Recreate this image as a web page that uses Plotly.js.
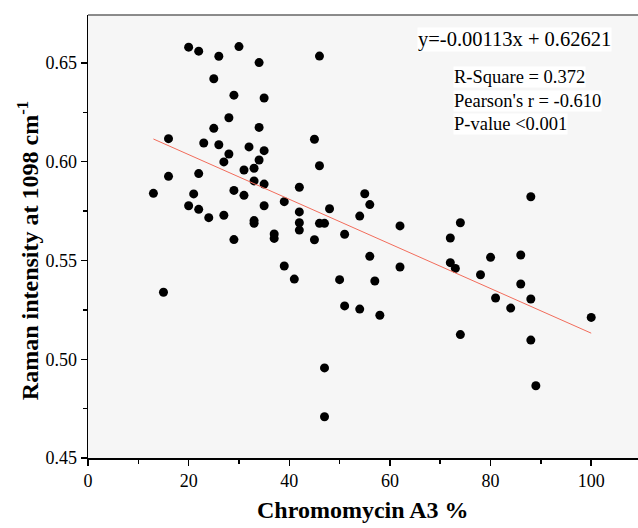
<!DOCTYPE html>
<html>
<head>
<meta charset="utf-8">
<script src="https://cdn.plot.ly/plotly-3.0.1.min.js"></script>
<style>html,body{margin:0;padding:0;background:#fff;overflow:hidden}</style>
</head>
<body>
<div id="chart" style="width:638px;height:528px"></div>
<script>
const chromomycinPct = [20,22,26,30,34,25,29,35,28,25,34,16,23,26,32,35,28,34,27,33,31,16,22,33,35,13,21,29,31,20,22,35,24,27,33,33,37,37,29,15,46,45,46,42,39,55,56,48,42,54,42,46,47,42,51,45,62,72,74,39,41,50,56,57,62,72,73,51,54,58,74,47,47,80,86,78,86,81,88,84,100,88,89,88];
const ramanIntensity = [0.658,0.656,0.6534,0.6583,0.6502,0.642,0.6337,0.6323,0.6223,0.6169,0.6174,0.6117,0.6095,0.6086,0.6075,0.6056,0.6039,0.6009,0.5999,0.5967,0.5958,0.5926,0.594,0.5903,0.5887,0.584,0.5837,0.5855,0.583,0.5777,0.5759,0.5777,0.5717,0.5729,0.5702,0.5688,0.5634,0.5612,0.5606,0.5339,0.6535,0.6114,0.598,0.5871,0.5798,0.5838,0.5783,0.5762,0.5746,0.5725,0.5691,0.5688,0.5688,0.5654,0.5633,0.5605,0.5675,0.5614,0.5691,0.5472,0.5406,0.5403,0.5521,0.5396,0.5467,0.5489,0.546,0.527,0.5254,0.5223,0.5125,0.4956,0.4709,0.5516,0.5528,0.5428,0.5381,0.531,0.5305,0.5259,0.5212,0.5097,0.4866,0.5823];
const fitSlope = -0.00113;
const fitIntercept = 0.62621;
const statsLines = ["R-Square = 0.372", "Pearson's r = -0.610", "P-value <0.001"];
const equationText = "y=-0.00113x + 0.62621";
const xTickVals = [0,20,40,60,80,100];
const yTickVals = [0.45,0.50,0.55,0.60,0.65];

const xMin = Math.min(...chromomycinPct), xMax = Math.max(...chromomycinPct);
const fitX = [xMin, xMax];
const fitY = fitX.map(v => fitSlope * v + fitIntercept);

const serif = "Liberation Serif, Times New Roman, serif";

const traces = [
  {x: chromomycinPct, y: ramanIntensity, type: 'scatter', mode: 'markers',
   marker: {color: '#000', size: 9}, hoverinfo: 'x+y'},
  {x: fitX, y: fitY, type: 'scatter', mode: 'lines',
   line: {color: '#f26c5b', width: 1}}
];

const statsY = [0.860, 0.806, 0.754];
const annotations = [
  {text: equationText, xref: 'paper', yref: 'paper', x: 0.598, y: 0.9436,
   xanchor: 'left', yanchor: 'middle', showarrow: false, bgcolor: '#fff', borderpad: 0,
   font: {family: serif, size: 20.5, color: '#000'}},
  ...statsLines.map((t, i) => ({text: t, xref: 'paper', yref: 'paper', x: 0.6636, y: statsY[i],
   xanchor: 'left', yanchor: 'middle', showarrow: false, bgcolor: '#fff', borderpad: 0,
   font: {family: serif, size: 18.5, color: '#000'}})),
  {text: '<b>Chromomycin A3 %</b>', xref: 'paper', yref: 'paper', x: 0.5, y: -0.117,
   xanchor: 'center', yanchor: 'middle', showarrow: false,
   font: {family: serif, size: 24, color: '#000'}},
  {text: '<b>Raman intensity at 1098 cm<sup>-1</sup></b>', xref: 'paper', yref: 'paper',
   x: -0.109, y: 0.467, xanchor: 'center', yanchor: 'middle', textangle: -90, showarrow: false,
   font: {family: serif, size: 24, color: '#000'}}
];

const layout = {
  width: 638, height: 528,
  margin: {l: 88, r: 0, t: 15, b: 70},
  paper_bgcolor: '#fff', plot_bgcolor: '#f6f6f6',
  showlegend: false,
  font: {family: serif, color: '#000'},
  xaxis: {
    range: [0, 109.3], tickvals: xTickVals, ticktext: xTickVals.map(String),
    ticks: 'outside', ticklen: 6, tickwidth: 1.5, tickcolor: '#000',
    showline: true, linecolor: '#000', linewidth: 1.5, showgrid: false, zeroline: false,
    tickfont: {family: serif, size: 18, color: '#000'},
    minor: {ticks: 'outside', ticklen: 4, dtick: 10, tick0: 0, tickcolor: '#000', tickwidth: 1.5, showgrid: false}
  },
  yaxis: {
    range: [0.45, 0.6743], tickvals: yTickVals, ticktext: yTickVals.map(v => v.toFixed(2)),
    ticks: 'outside', ticklen: 6, tickwidth: 1.5, tickcolor: '#000',
    showline: true, linecolor: '#000', linewidth: 1.5, showgrid: false, zeroline: false,
    tickfont: {family: serif, size: 18, color: '#000'},
    minor: {ticks: 'outside', ticklen: 4, dtick: 0.025, tick0: 0.45, tickcolor: '#000', tickwidth: 1.5, showgrid: false}
  },
  shapes: [
    {type: 'line', xref: 'paper', yref: 'paper', x0: 0, x1: 1, y0: 1, y1: 1,
     line: {color: '#666', width: 1.5}}
  ],
  annotations: annotations
};

Plotly.newPlot('chart', traces, layout, {displayModeBar: false, staticPlot: true});
</script>
</body>
</html>
